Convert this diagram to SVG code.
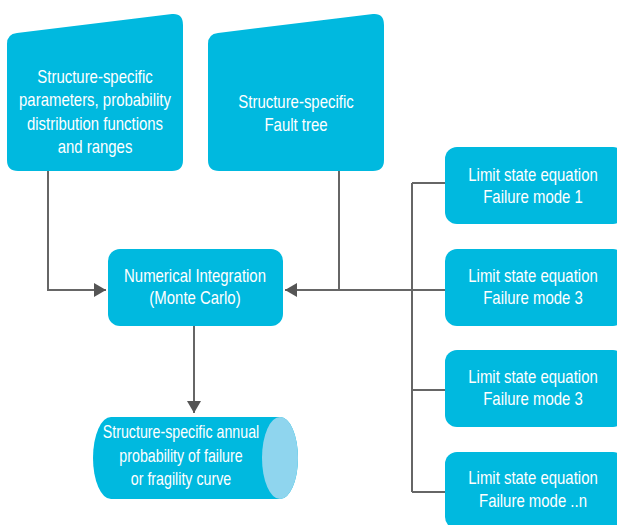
<svg xmlns="http://www.w3.org/2000/svg" width="617" height="525" viewBox="0 0 617 525">
<defs>
<style>
.box{fill:#00b9df}
.cap{fill:#8fd5ee}
.t{fill:#fff;font-family:"Liberation Sans",Arial,sans-serif;font-size:18px;text-anchor:middle}
.ln{fill:none;stroke:#666;stroke-width:2}
</style>
<marker id="ah" viewBox="0 0 12 14" refX="12" refY="7" markerWidth="12" markerHeight="14" markerUnits="userSpaceOnUse" orient="auto">
<path d="M0,0 L12,7 L0,14 Z" fill="#555"/>
</marker>
</defs>
<rect width="617" height="525" fill="#fff"/>
<g id="connectors">
<polyline class="ln" points="48,171 48,290 106,290" marker-end="url(#ah)"/>
<line class="ln" x1="339" y1="171" x2="339" y2="290"/>
<line class="ln" x1="412" y1="183" x2="412" y2="492"/>
<line class="ln" x1="412" y1="183" x2="445" y2="183"/>
<line class="ln" x1="412" y1="290" x2="445" y2="290"/>
<line class="ln" x1="412" y1="390" x2="445" y2="390"/>
<line class="ln" x1="412" y1="492" x2="445" y2="492"/>
<line class="ln" x1="412" y1="290" x2="285" y2="290" marker-end="url(#ah)"/>
<line class="ln" x1="194" y1="326" x2="194" y2="413" marker-end="url(#ah)"/>
</g>
<g id="params">
<path class="box" d="M7,44 Q7,34 17,33 L172,14 Q183,13 183,25 L183,160 Q183,171 172,171 L18,171 Q7,171 7,160 Z"/>
<g transform="translate(95,0) scale(0.83,1)">
<text class="t" x="0" y="83">Structure-specific</text>
<text class="t" x="0" y="106">parameters, probability</text>
<text class="t" x="0" y="130">distribution functions</text>
<text class="t" x="0" y="153">and ranges</text>
</g>
</g>
<g id="faulttree">
<path class="box" d="M208,44 Q208,34 218,33 L373,14 Q384,13 384,25 L384,160 Q384,171 373,171 L219,171 Q208,171 208,160 Z"/>
<g transform="translate(296,0) scale(0.83,1)">
<text class="t" x="0" y="108">Structure-specific</text>
<text class="t" x="0" y="131">Fault tree</text>
</g>
</g>
<g id="numint">
<rect class="box" x="108" y="249" width="175" height="77" rx="12"/>
<g transform="translate(195,0) scale(0.83,1)">
<text class="t" x="0" y="282">Numerical Integration</text>
<text class="t" x="0" y="304">(Monte Carlo)</text>
</g>
</g>
<g id="lse1">
<rect class="box" x="445" y="147" width="180" height="77" rx="12"/>
<g transform="translate(533,0) scale(0.83,1)">
<text class="t" x="0" y="181">Limit state equation</text>
<text class="t" x="0" y="203">Failure mode 1</text>
</g>
</g>
<g id="lse2">
<rect class="box" x="445" y="249" width="180" height="77" rx="12"/>
<g transform="translate(533,0) scale(0.83,1)">
<text class="t" x="0" y="282">Limit state equation</text>
<text class="t" x="0" y="304">Failure mode 3</text>
</g>
</g>
<g id="lse3">
<rect class="box" x="445" y="350" width="180" height="77" rx="12"/>
<g transform="translate(533,0) scale(0.83,1)">
<text class="t" x="0" y="383">Limit state equation</text>
<text class="t" x="0" y="405">Failure mode 3</text>
</g>
</g>
<g id="lsen">
<rect class="box" x="445" y="452" width="180" height="77" rx="12"/>
<g transform="translate(533,0) scale(0.83,1)">
<text class="t" x="0" y="484">Limit state equation</text>
<text class="t" x="0" y="507">Failure mode ..n</text>
</g>
</g>
<g id="result">
<path class="box" d="M111,417 L280,417 A18,41 0 0 1 280,499 L111,499 A18,41 0 0 1 111,417 Z"/>
<ellipse class="cap" cx="280" cy="458" rx="18" ry="41"/>
<g transform="translate(181,0) scale(0.79,1)">
<text class="t" x="0" y="438">Structure-specific annual</text>
<text class="t" x="0" y="462">probability of failure</text>
<text class="t" x="0" y="485">or fragility curve</text>
</g>
</g>
</svg>
